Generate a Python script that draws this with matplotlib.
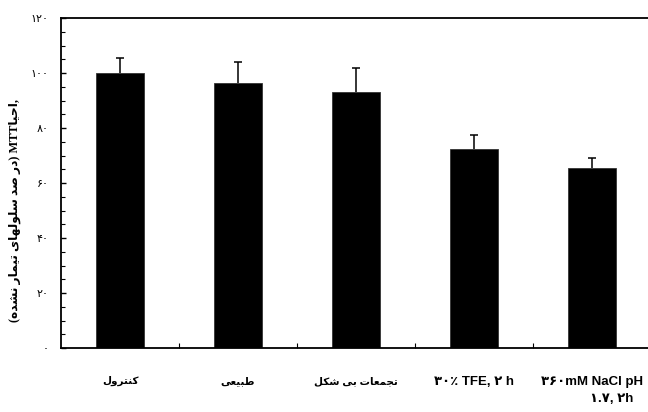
import matplotlib

matplotlib.use("Agg")
import matplotlib.pyplot as plt
from matplotlib.ticker import MultipleLocator, FixedLocator, FuncFormatter

# values (percent of untreated cells)
categories = ["کنترول", "طبیعی", "تجمعات بی شکل", "۳۰٪ TFE, ۲ h", "۳۶۰mM NaCl pH"]
rtl_labels = [True, True, True, False, False]
second_line = "۱.۷, ۲h"
values = [100.0, 96.5, 93.1, 72.4, 65.3]
errors = [5.3, 7.4, 8.6, 4.9, 3.7]
ylabel_fa = "در صد سلولهای تیمار نشده"
ylabel_word = "احیا"

FA_DIGITS = str.maketrans("0123456789", "۰۱۲۳۴۵۶۷۸۹")

# isolated, final, initial, medial presentation forms
FORMS = {
    "ا": ("\uFE8D", "\uFE8E", None, None),
    "ب": ("\uFE8F", "\uFE90", "\uFE91", "\uFE92"),
    "ت": ("\uFE95", "\uFE96", "\uFE97", "\uFE98"),
    "ج": ("\uFE9D", "\uFE9E", "\uFE9F", "\uFEA0"),
    "ح": ("\uFEA1", "\uFEA2", "\uFEA3", "\uFEA4"),
    "د": ("\uFEA9", "\uFEAA", None, None),
    "ر": ("\uFEAD", "\uFEAE", None, None),
    "س": ("\uFEB1", "\uFEB2", "\uFEB3", "\uFEB4"),
    "ش": ("\uFEB5", "\uFEB6", "\uFEB7", "\uFEB8"),
    "ص": ("\uFEB9", "\uFEBA", "\uFEBB", "\uFEBC"),
    "ط": ("\uFEC1", "\uFEC2", "\uFEC3", "\uFEC4"),
    "ع": ("\uFEC9", "\uFECA", "\uFECB", "\uFECC"),
    "ک": ("\uFB8E", "\uFB8F", "\uFB90", "\uFB91"),
    "ل": ("\uFEDD", "\uFEDE", "\uFEDF", "\uFEE0"),
    "م": ("\uFEE1", "\uFEE2", "\uFEE3", "\uFEE4"),
    "ن": ("\uFEE5", "\uFEE6", "\uFEE7", "\uFEE8"),
    "ه": ("\uFEE9", "\uFEEA", "\uFEEB", "\uFEEC"),
    "و": ("\uFEED", "\uFEEE", None, None),
    "ی": ("\uFBFC", "\uFBFD", "\uFBFE", "\uFBFF"),
}


def shape(text):
    # minimal Persian shaping + reversal to visual order (no libraqm here)
    out = []
    for i, ch in enumerate(text):
        if ch not in FORMS:
            out.append(ch)
            continue
        prev = text[i - 1] if i > 0 else ""
        nxt = text[i + 1] if i + 1 < len(text) else ""
        join_prev = prev in FORMS and FORMS[prev][2] is not None
        join_next = FORMS[ch][2] is not None and nxt in FORMS
        iso, fin, ini, med = FORMS[ch]
        if join_prev and join_next:
            out.append(med)
        elif join_prev:
            out.append(fin)
        elif join_next:
            out.append(ini)
        else:
            out.append(iso)
    return "".join(reversed(out))


FAMILY = ["Liberation Sans", "DejaVu Sans"]

fig = plt.figure(figsize=(6.48, 4.12), dpi=100)
ax = fig.add_axes([61 / 648, 64 / 412, 590 / 648, 330 / 412])

x = list(range(len(values)))
ax.bar(x, values, width=0.41, color="black", edgecolor="#333333", linewidth=0.6, zorder=2)
_, caps, _ = ax.errorbar(
    x, values, yerr=[[0] * len(errors), errors], fmt="none",
    ecolor="black", elinewidth=1.1, capsize=3.2, capthick=1.1, zorder=3,
)
caps[0].set_visible(False)  # only the upper caps

ax.set_xlim(-0.5, 4.5)
ax.set_ylim(0, 120)

ax.yaxis.set_major_locator(MultipleLocator(20))
ax.yaxis.set_minor_locator(MultipleLocator(5))
ax.yaxis.set_major_formatter(FuncFormatter(lambda v, p: str(int(v)).translate(FA_DIGITS)))
ax.tick_params(axis="y", which="major", direction="in", length=3.8, width=1.0,
               labelsize=8, pad=9)
ax.tick_params(axis="y", which="minor", direction="in", length=2.6, width=0.8)

labels = [shape(c) if r else c for c, r in zip(categories, rtl_labels)]
ax.set_xticks(x)
ax.set_xticklabels(labels)
for lab, r in zip(ax.get_xticklabels(), rtl_labels):
    lab.set_family(FAMILY)
    lab.set_fontweight("bold")
    lab.set_fontsize(7.5 if r else 9.5)
ax.xaxis.set_minor_locator(FixedLocator([0.5, 1.5, 2.5, 3.5]))
ax.tick_params(axis="x", which="major", length=0, pad=20)
ax.tick_params(axis="x", which="minor", direction="in", length=3.5, width=0.8)

ax.text(4.17, -0.135, second_line, transform=ax.get_xaxis_transform(),
        ha="center", va="top", fontsize=9.5, fontweight="bold", family=FAMILY)

for side in ("left", "bottom", "top"):
    ax.spines[side].set_linewidth(1.3)
ax.spines["right"].set_visible(False)

ylabel = "(" + shape(ylabel_fa) + ") MTT" + shape(ylabel_word) + ","
fig.text(15 / 648, 1 - 210 / 412, ylabel, rotation=90, ha="center", va="center",
         fontsize=8.8, fontweight="bold", family=["Liberation Serif", "DejaVu Sans"])

fig.savefig("out.png", dpi=100)
